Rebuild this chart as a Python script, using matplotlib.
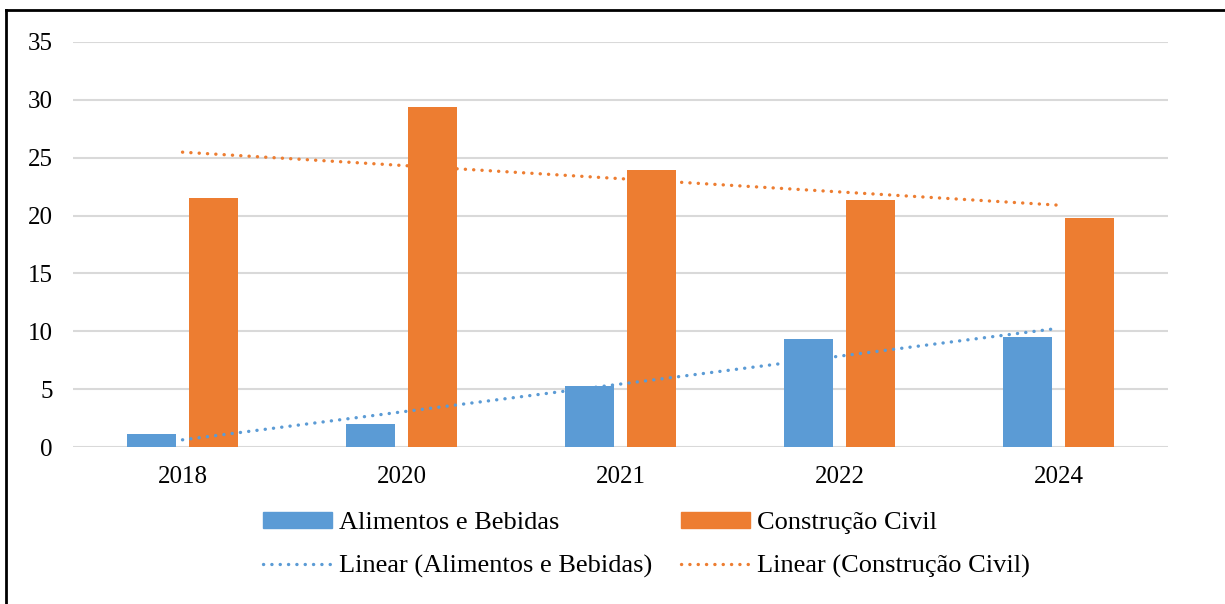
import matplotlib.pyplot as plt
from matplotlib.lines import Line2D
from matplotlib.patches import Patch
import numpy as np

# data
anos = ['2018', '2020', '2021', '2022', '2024']
alimentos = [1.1, 2.0, 5.3, 9.3, 9.5]
construcao = [21.5, 29.4, 23.9, 21.35, 19.8]

azul = '#5B9BD5'
laranja = '#ED7D31'

plt.rcParams['font.family'] = ['Liberation Serif', 'DejaVu Serif']

fig = plt.figure(figsize=(12.25, 6.04), dpi=100)
ax = fig.add_axes([73 / 1225, 1 - 447 / 604, 1095 / 1225, 405 / 604])

x = np.arange(len(anos))
w = 0.224
off = 0.142
ax.bar(x - off, alimentos, w, color=azul, zorder=3)
ax.bar(x + off, construcao, w, color=laranja, zorder=3)

# linear trendlines (least squares, like Excel)
pontilhado = (0, (0.05, 2.45))
xs = x + 1
for serie, cor in [(alimentos, azul), (construcao, laranja)]:
    a, b = np.polyfit(xs, serie, 1)
    ax.plot(x, a * xs + b, color=cor, lw=2.4, linestyle=pontilhado,
            dash_capstyle='round', zorder=4)

ax.set_xlim(-0.5, len(anos) - 0.5)
ax.set_ylim(0, 35)
ax.set_yticks(range(0, 36, 5))
ax.set_xticks(x)
ax.set_xticklabels(anos)
ax.grid(axis='y', color='#d9d9d9', lw=1.5, zorder=0)
ax.tick_params(length=0, labelsize=18)
ax.tick_params(axis='y', pad=14.5)
ax.tick_params(axis='x', pad=14)
for s in ax.spines.values():
    s.set_visible(False)
ax.set_axisbelow(True)

handles = [Patch(color=azul),
           Line2D([], [], color=azul, lw=2.4, linestyle=pontilhado, dash_capstyle='round'),
           Patch(color=laranja),
           Line2D([], [], color=laranja, lw=2.4, linestyle=pontilhado, dash_capstyle='round')]
labels = ['Alimentos e Bebidas', 'Linear (Alimentos e Bebidas)',
          'Construção Civil', 'Linear (Construção Civil)']
fig.legend(handles, labels, ncol=2, loc='upper left', bbox_to_anchor=(250 / 1225, 1 - 499 / 604),
           frameon=False, fontsize=19, handlelength=2.6, handleheight=0.53, borderpad=0,
           handletextpad=0.27, columnspacing=1.1, labelspacing=0.78)

# outer frame (cut at right and bottom)
fig.add_artist(Line2D([6 / 1225, 6 / 1225], [0, 1 - 10 / 604], color='black', lw=2.0,
                      transform=fig.transFigure, solid_capstyle='projecting'))
fig.add_artist(Line2D([6 / 1225, 1], [1 - 10 / 604, 1 - 10 / 604], color='black', lw=2.0,
                      transform=fig.transFigure, solid_capstyle='projecting'))

fig.savefig('out.png', dpi=100)
